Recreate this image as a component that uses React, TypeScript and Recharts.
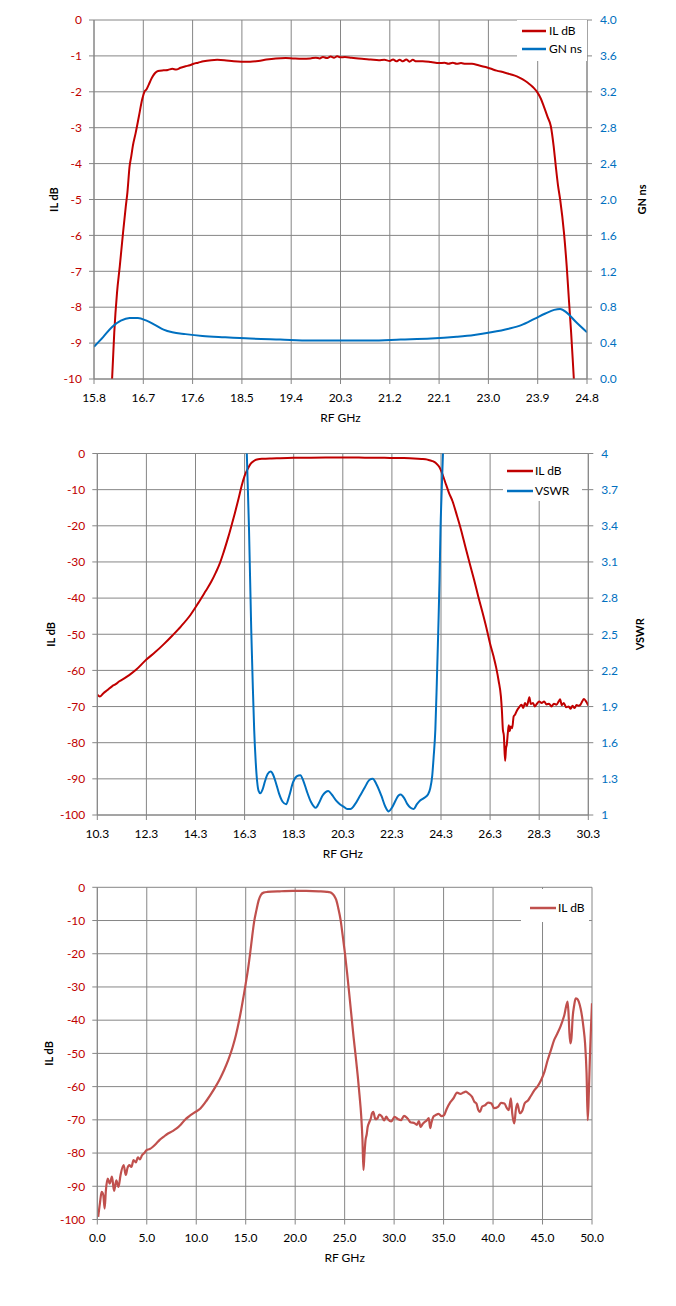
import React from 'react';
import { LineChart, Line, XAxis, YAxis, CartesianGrid, Legend } from 'recharts';

const FONT = 'Lato, "Liberation Sans", sans-serif';
const RED = '#C00000';
const BLUE = '#0070C0';
const RED3 = '#C0504D';
const GRID = '#868686';

// ---------- Chart 1: IL dB and GN ns, 15.8 - 24.8 GHz ----------
const c1XTicks = [15.8, 16.7, 17.6, 18.5, 19.4, 20.3, 21.2, 22.1, 23.0, 23.9, 24.8];
const c1LeftTicks = [0, -1, -2, -3, -4, -5, -6, -7, -8, -9, -10];
const c1RightTicks = [0, 0.4, 0.8, 1.2, 1.6, 2.0, 2.4, 2.8, 3.2, 3.6, 4.0];
const c1Series = ['IL dB', 'GN ns'];

const il1Freq = [16.08, 16.13, 16.17, 16.22, 16.27, 16.33, 16.38, 16.41, 16.45, 16.48, 16.51, 16.56, 16.62, 16.68, 16.72, 16.76, 16.8, 16.84, 16.88, 16.92, 16.97, 17.07, 17.15, 17.23, 17.3, 17.38, 17.47, 17.55, 17.62, 17.7, 17.8, 17.94, 18.05, 18.18, 18.35, 18.49, 18.65, 18.8, 18.95, 19.12, 19.3, 19.43, 19.6, 19.75, 19.85, 19.92, 19.98, 20.05, 20.12, 20.18, 20.24, 20.3, 20.38, 20.5, 20.69, 20.85, 21.0, 21.1, 21.2, 21.26, 21.32, 21.38, 21.44, 21.5, 21.56, 21.62, 21.68, 21.8, 21.95, 22.1, 22.2, 22.27, 22.35, 22.42, 22.5, 22.58, 22.7, 22.82, 22.95, 23.05, 23.15, 23.29, 23.4, 23.52, 23.62, 23.72, 23.82, 23.9, 23.96, 24.01, 24.08, 24.14, 24.19, 24.23, 24.27, 24.31, 24.38, 24.43, 24.47, 24.51, 24.56, 24.6];
const il1Val = [-11, -10, -8.7, -7.6, -6.87, -5.93, -5.2, -4.8, -4.07, -3.8, -3.5, -3.15, -2.68, -2.21, -2.0, -1.93, -1.8, -1.66, -1.55, -1.47, -1.42, -1.4, -1.39, -1.36, -1.38, -1.33, -1.29, -1.26, -1.22, -1.19, -1.15, -1.12, -1.11, -1.12, -1.15, -1.16, -1.16, -1.14, -1.1, -1.07, -1.06, -1.07, -1.08, -1.07, -1.05, -1.07, -1.03, -1.06, -1.02, -1.05, -1.01, -1.04, -1.03, -1.05, -1.08, -1.1, -1.12, -1.11, -1.14, -1.1, -1.15, -1.11, -1.15, -1.1, -1.16, -1.11, -1.15, -1.15, -1.17, -1.2, -1.19, -1.22, -1.19, -1.22, -1.2, -1.22, -1.22, -1.26, -1.31, -1.36, -1.41, -1.46, -1.51, -1.57, -1.65, -1.75, -1.88, -2.03, -2.2, -2.4, -2.7, -2.96, -3.5, -4.07, -4.6, -5.0, -5.93, -6.87, -7.8, -8.7, -10, -11];

const gn1Freq = [15.8, 15.97, 16.13, 16.29, 16.45, 16.6, 16.76, 16.92, 17.07, 17.23, 17.47, 17.78, 18.18, 18.65, 19.2, 19.75, 20.3, 20.85, 21.4, 21.95, 22.42, 22.74, 23.05, 23.37, 23.6, 23.84, 24.04, 24.2, 24.31, 24.43, 24.59, 24.8];
const gn1Val = [0.36, 0.47, 0.58, 0.65, 0.68, 0.68, 0.65, 0.6, 0.55, 0.52, 0.5, 0.48, 0.465, 0.45, 0.44, 0.43, 0.43, 0.43, 0.44, 0.45, 0.47, 0.49, 0.52, 0.56, 0.6, 0.67, 0.73, 0.77, 0.78, 0.74, 0.64, 0.52];

// ---------- Chart 2: IL dB and VSWR, 10.3 - 30.3 GHz ----------
const c2XTicks = [10.3, 12.3, 14.3, 16.3, 18.3, 20.3, 22.3, 24.3, 26.3, 28.3, 30.3];
const c2LeftTicks = [0, -10, -20, -30, -40, -50, -60, -70, -80, -90, -100];
const c2RightTicks = [1, 1.3, 1.6, 1.9, 2.2, 2.5, 2.8, 3.1, 3.4, 3.7, 4];
const c2Series = ['IL dB', 'VSWR'];

const il2Freq = [10.3, 10.4, 10.55, 10.7, 10.9, 11.05, 11.2, 11.4, 11.6, 11.9, 12.3, 12.65, 13.0, 13.35, 13.71, 14.1, 14.41, 14.7, 14.94, 15.13, 15.29, 15.45, 15.64, 15.8, 15.9, 16.05, 16.17, 16.3, 16.43, 16.55, 16.69, 16.85, 17.04, 17.4, 17.75, 18.3, 19.0, 19.8, 20.5, 21.2, 22.0, 22.7, 23.2, 23.5, 23.75, 23.95, 24.1, 24.22, 24.32, 24.4, 24.5, 24.62, 24.77, 24.95, 25.12, 25.3, 25.47, 25.65, 25.82, 26.0, 26.17, 26.3, 26.44, 26.55, 26.65, 26.74, 26.78, 26.82, 26.86, 26.91, 26.95, 26.98, 27.02, 27.06, 27.1, 27.14, 27.2, 27.26, 27.32, 27.4, 27.48, 27.58, 27.65, 27.72, 27.8, 27.9, 27.96, 28.05, 28.12, 28.2, 28.3, 28.4, 28.5, 28.6, 28.7, 28.8, 28.9, 29.0, 29.1, 29.15, 29.22, 29.3, 29.4, 29.5, 29.58, 29.66, 29.74, 29.82, 29.9, 29.98, 30.05, 30.12, 30.2, 30.3];
const il2Val = [-66.7, -67.2, -66.3, -65.5, -64.4, -63.8, -63.0, -62.2, -61.3, -59.7, -57.0, -55.0, -52.8, -50.4, -47.8, -44.6, -41.4, -38.2, -35.5, -32.9, -30.4, -27.2, -23.0, -19.1, -16.6, -12.6, -9.2, -6.2, -4.2, -2.8, -2.0, -1.6, -1.45, -1.35, -1.3, -1.2, -1.15, -1.1, -1.1, -1.15, -1.2, -1.25, -1.35, -1.5, -1.7, -2.1, -2.7, -3.6, -5.0, -6.5, -8.5, -10.8, -13.2, -17.2, -21.2, -26.0, -30.4, -35.0, -39.6, -44.2, -48.8, -52.6, -56.1, -59.3, -63.0, -67.2, -71.0, -76.4, -78.0, -85.0, -81.5, -80.5, -77.5, -75.2, -76.8, -75.5, -76.0, -72.7, -72.2, -71.0, -70.2, -69.5, -70.4, -69.0, -69.8, -67.4, -69.3, -69.0, -70.0, -69.3, -68.6, -69.0, -68.6, -69.4, -69.2, -70.0, -69.2, -69.5, -68.5, -68.0, -69.6, -69.0, -70.2, -70.0, -70.6, -69.8, -70.4, -69.6, -69.8, -69.5, -68.6, -67.9, -68.5, -69.7];

const vswrFreq = [16.3, 16.39, 16.48, 16.57, 16.63, 16.69, 16.75, 16.81, 16.87, 16.94, 17.03, 17.13, 17.24, 17.36, 17.47, 17.57, 17.7, 17.85, 17.99, 18.12, 18.27, 18.42, 18.57, 18.7, 18.83, 19.0, 19.2, 19.33, 19.47, 19.6, 19.71, 19.85, 20.03, 20.18, 20.33, 20.48, 20.61, 20.8, 21.0, 21.2, 21.38, 21.52, 21.66, 21.87, 22.03, 22.17, 22.3, 22.45, 22.56, 22.66, 22.8, 22.93, 23.06, 23.19, 23.32, 23.45, 23.6, 23.77, 23.86, 23.94, 24.0, 24.07, 24.13, 24.19, 24.24, 24.28, 24.33, 24.38, 24.46];
const vswrVal = [4.7, 4.0, 3.37, 2.54, 2.1, 1.71, 1.45, 1.28, 1.2, 1.18, 1.21, 1.28, 1.34, 1.36, 1.33, 1.27, 1.18, 1.11, 1.09, 1.16, 1.27, 1.32, 1.33, 1.28, 1.2, 1.11, 1.06, 1.1, 1.16, 1.19, 1.2, 1.17, 1.12, 1.09, 1.07, 1.05, 1.05, 1.09, 1.16, 1.23, 1.29, 1.3, 1.26, 1.16, 1.07, 1.03, 1.06, 1.12, 1.16, 1.17, 1.14, 1.09, 1.06, 1.05, 1.09, 1.12, 1.14, 1.17, 1.22, 1.32, 1.48, 1.71, 2.1, 2.54, 2.95, 3.37, 3.7, 4.0, 4.6];

// ---------- Chart 3: IL dB, 0 - 50 GHz ----------
const c3XTicks = [0, 5, 10, 15, 20, 25, 30, 35, 40, 45, 50];
const c3LeftTicks = [0, -10, -20, -30, -40, -50, -60, -70, -80, -90, -100];
const c3Series = ['IL dB'];

const il3Freq = [0.09, 0.26, 0.44, 0.61, 0.74, 0.87, 1.05, 1.26, 1.48, 1.7, 1.92, 2.14, 2.35, 2.66, 2.88, 3.05, 3.23, 3.45, 3.66, 3.9, 4.1, 4.3, 4.53, 4.75, 4.97, 5.3, 5.62, 6.0, 6.28, 6.7, 7.15, 7.6, 8.02, 8.45, 8.89, 9.3, 9.77, 10.42, 11.07, 11.5, 11.95, 12.4, 12.82, 13.25, 13.69, 14.0, 14.34, 14.55, 14.78, 15.0, 15.22, 15.45, 15.65, 15.85, 16.09, 16.3, 16.53, 16.8, 17.18, 18.5, 19.8, 21.1, 22.4, 23.2, 23.5, 23.72, 23.95, 24.15, 24.35, 24.59, 24.8, 25.03, 25.25, 25.46, 25.68, 25.9, 26.12, 26.33, 26.5, 26.68, 26.8, 26.9, 27.0, 27.11, 27.22, 27.33, 27.48, 27.64, 27.77, 27.9, 28.1, 28.3, 28.5, 28.74, 29.0, 29.2, 29.4, 29.7, 30.05, 30.4, 30.7, 31.0, 31.36, 31.7, 32.0, 32.3, 32.5, 32.67, 32.9, 33.1, 33.3, 33.5, 33.65, 33.76, 34.0, 34.18, 34.5, 34.8, 35.05, 35.3, 35.7, 36.0, 36.36, 36.7, 37.0, 37.23, 37.5, 37.88, 38.1, 38.32, 38.5, 38.67, 38.9, 39.19, 39.5, 39.84, 40.1, 40.5, 40.8, 41.15, 41.4, 41.59, 41.8, 41.94, 42.15, 42.3, 42.46, 42.7, 42.98, 43.2, 43.55, 43.8, 44.2, 44.5, 44.86, 45.2, 45.52, 45.85, 46.17, 46.5, 46.83, 47.2, 47.53, 47.62, 47.72, 47.82, 47.92, 48.05, 48.2, 48.35, 48.5, 48.66, 48.85, 49.0, 49.15, 49.3, 49.45, 49.57, 49.68, 49.79, 49.9, 50.0];
const il3Val = [-99.2, -95.2, -91.7, -92.7, -96.7, -91.2, -87.7, -89.2, -87.1, -91.4, -88.2, -90.2, -86.6, -83.6, -86.6, -84.5, -83.6, -84.2, -82.1, -82.8, -81.3, -81.9, -80.6, -80.0, -79.1, -78.8, -78.1, -77.0, -76.1, -75.1, -74.1, -73.4, -72.6, -71.4, -69.9, -68.9, -67.9, -66.6, -64.1, -62.2, -60.0, -57.6, -55.0, -51.9, -48.0, -44.6, -40.0, -36.8, -32.9, -29.0, -24.9, -19.8, -14.9, -10.4, -6.8, -4.0, -2.3, -1.6, -1.4, -1.2, -1.1, -1.1, -1.2, -1.35, -1.5, -1.8, -2.6, -3.8, -6.2, -9.8, -14.5, -19.9, -25.8, -31.9, -38.5, -45.0, -51.0, -57.0, -62.5, -69.1, -76.0, -85.1, -80.5, -76.1, -74.5, -72.1, -70.8, -69.6, -68.0, -67.6, -69.8, -69.6, -68.4, -68.9, -70.2, -69.0, -69.9, -70.5, -69.1, -69.8, -70.1, -68.8, -69.6, -70.8, -70.9, -71.5, -70.4, -72.1, -71.2, -70.6, -70.2, -69.5, -72.5, -71.0, -68.9, -68.6, -68.2, -68.9, -68.6, -66.8, -64.6, -63.5, -61.8, -62.2, -61.8, -61.5, -62.0, -63.1, -64.5, -65.1, -67.0, -67.6, -66.0, -65.6, -64.8, -65.1, -66.5, -66.1, -64.9, -65.1, -66.5, -67.1, -63.5, -68.1, -71.1, -67.0, -65.1, -68.0, -67.1, -65.0, -64.1, -62.9, -61.0, -59.9, -58.0, -55.5, -52.0, -49.0, -46.0, -44.0, -41.8, -38.5, -34.4, -37.5, -44.0, -47.0, -45.5, -39.0, -35.5, -33.4, -33.6, -34.4, -36.5, -39.0, -42.5, -47.0, -56.0, -70.1, -62.0, -51.0, -42.0, -34.9];

const toRows = (fs: number[], vs: number[]) => fs.map((f, i) => ({ f, v: vs[i] }));
const il1 = toRows(il1Freq, il1Val);
const gn1 = toRows(gn1Freq, gn1Val);
const il2 = toRows(il2Freq, il2Val);
const vswr2 = toRows(vswrFreq, vswrVal);
const il3 = toRows(il3Freq, il3Val);

const tickFont = { fontSize: 12, fontFamily: FONT };

const YTitle = (props: any) => {
  const vb = props.viewBox || {};
  const cy = props.cy != null ? props.cy : (vb.y || 0) + (vb.height || 0) / 2;
  const cx = props.cx;
  return (
    <text
      x={cx}
      y={cy}
      transform={`rotate(-90 ${cx} ${cy})`}
      textAnchor="middle"
      dominantBaseline="central"
      style={{ fontFamily: FONT, fontSize: 11, fontWeight: 700, fill: '#000' }}
    >
      {props.title}
    </text>
  );
};

const XTitle = (props: any) => {
  const vb = props.viewBox || {};
  const cx = (vb.x || 0) + (vb.width || 0) / 2;
  const cy = (vb.y || 0) + props.dyc;
  return (
    <text
      x={cx}
      y={cy}
      textAnchor="middle"
      dominantBaseline="central"
      style={{ fontFamily: FONT, fontSize: 12, fill: '#000' }}
    >
      {props.title}
    </text>
  );
};

const makeLegend = (
  order: string[],
  opts: { padTop: number; padLeft: number; rowH: number; lineLen: number; gap: number }
) =>
  (props: any) => {
    const payload = [...(props.payload || [])].sort(
      (a: any, b: any) => order.indexOf(a.value) - order.indexOf(b.value)
    );
    return (
      <div style={{ fontFamily: FONT, fontSize: 12, color: '#000', paddingTop: opts.padTop, paddingLeft: opts.padLeft }}>
        {payload.map((p: any) => (
          <div key={p.value} style={{ display: 'flex', alignItems: 'center', height: opts.rowH, whiteSpace: 'nowrap' }}>
            <svg width={opts.lineLen} height={4} style={{ display: 'block' }}>
              <line x1={0} y1={2} x2={opts.lineLen} y2={2} stroke={p.color} strokeWidth={2.5} />
            </svg>
            <span style={{ marginLeft: opts.gap, lineHeight: '12px' }}>{p.value}</span>
          </div>
        ))}
      </div>
    );
  };

const legend1 = makeLegend(c1Series, { padTop: 2, padLeft: 5, rowH: 18, lineLen: 24, gap: 3 });
const legend2 = makeLegend(c2Series, { padTop: 7, padLeft: 4, rowH: 20, lineLen: 26, gap: 2 });
const legend3 = makeLegend(c3Series, { padTop: 10, padLeft: 9, rowH: 18, lineLen: 26, gap: 2 });

const fmt1 = (v: number) => v.toFixed(1);
const fmtPlain = (v: number) => String(v);

export default function App() {
  return (
    <div style={{ position: 'relative', width: 660, height: 1292 }}>
      {/* Chart 1 */}
      <div style={{ position: 'absolute', left: 0, top: 0 }}>
        <LineChart width={660} height={420} margin={{ top: 12, right: 0, left: 0, bottom: 0 }}>
          <CartesianGrid stroke={GRID} yAxisId="l" fill="none" />
          <XAxis
            dataKey="f"
            type="number"
            domain={[15.8, 24.8]}
            ticks={c1XTicks}
            interval={0}
            allowDataOverflow
            height={49}
            tickFormatter={fmt1}
            tick={{ ...tickFont, fill: '#000' }}
            tickSize={5}
            tickMargin={9}
            stroke={GRID}
            label={<XTitle title="RF GHz" dyc={38} />}
          />
          <YAxis
            yAxisId="l"
            orientation="left"
            width={86}
            domain={[-10, 0]}
            ticks={c1LeftTicks}
            interval={0}
            allowDataOverflow
            tickFormatter={fmtPlain}
            tick={{ ...tickFont, fill: RED }}
            tickSize={5}
            tickMargin={7}
            stroke={GRID}
            label={<YTitle title="IL dB" cx={45} cy={191.5} />}
          />
          <YAxis
            yAxisId="r"
            orientation="right"
            width={81}
            domain={[0, 4]}
            ticks={c1RightTicks}
            interval={0}
            allowDataOverflow
            tickFormatter={fmt1}
            tick={{ ...tickFont, fill: BLUE }}
            tickSize={5}
            tickMargin={8}
            stroke={GRID}
            label={<YTitle title="GN ns" cx={633} cy={191.5} />}
          />
          <Line data={il1} dataKey="v" name="IL dB" yAxisId="l" stroke={RED} strokeWidth={2} dot={false} type="monotone" isAnimationActive={false} />
          <Line data={gn1} dataKey="v" name="GN ns" yAxisId="r" stroke={BLUE} strokeWidth={2} dot={false} type="monotone" isAnimationActive={false} />
          <Legend
            layout="vertical"
            align="center"
            verticalAlign="middle"
            content={legend1}
            wrapperStyle={{ left: 509, top: 12, width: 70, height: 41, background: '#fff', boxSizing: 'border-box' }}
          />
        </LineChart>
      </div>

      {/* Chart 2 */}
      <div style={{ position: 'absolute', left: 0, top: 432 }}>
        <LineChart width={660} height={420} margin={{ top: 13.5, right: 0, left: 0, bottom: 0 }}>
          <CartesianGrid stroke={GRID} yAxisId="l" fill="none" />
          <XAxis
            dataKey="f"
            type="number"
            domain={[10.3, 30.3]}
            ticks={c2XTicks}
            interval={0}
            allowDataOverflow
            height={45}
            tickFormatter={fmt1}
            tick={{ ...tickFont, fill: '#000' }}
            tickSize={5}
            tickMargin={9}
            stroke={GRID}
            label={<XTitle title="RF GHz" dyc={38} />}
          />
          <YAxis
            yAxisId="l"
            orientation="left"
            width={89.3}
            domain={[-100, 0]}
            ticks={c2LeftTicks}
            interval={0}
            allowDataOverflow
            tickFormatter={fmtPlain}
            tick={{ ...tickFont, fill: RED }}
            tickSize={5}
            tickMargin={7}
            stroke={GRID}
            label={<YTitle title="IL dB" cx={42.6} cy={194.3} />}
          />
          <YAxis
            yAxisId="r"
            orientation="right"
            width={79.7}
            domain={[1, 4]}
            ticks={c2RightTicks}
            interval={0}
            allowDataOverflow
            tickFormatter={fmtPlain}
            tick={{ ...tickFont, fill: BLUE }}
            tickSize={5}
            tickMargin={8}
            stroke={GRID}
            label={<YTitle title="VSWR" cx={632} cy={194.3} />}
          />
          <Line data={il2} dataKey="v" name="IL dB" yAxisId="l" stroke={RED} strokeWidth={2} dot={false} type="monotone" isAnimationActive={false} />
          <Line data={vswr2} dataKey="v" name="VSWR" yAxisId="r" stroke={BLUE} strokeWidth={2} dot={false} type="monotone" isAnimationActive={false} />
          <Legend
            layout="vertical"
            align="center"
            verticalAlign="middle"
            content={legend2}
            wrapperStyle={{ left: 495, top: 14, width: 79, height: 47, background: '#fff', boxSizing: 'border-box' }}
          />
        </LineChart>
      </div>

      {/* Chart 3 */}
      <div style={{ position: 'absolute', left: 0, top: 862 }}>
        <LineChart width={660} height={420} margin={{ top: 17.3, right: 76, left: 0, bottom: 0 }}>
          <CartesianGrid stroke={GRID} yAxisId="l" fill="none" />
          <XAxis
            dataKey="f"
            type="number"
            domain={[0, 50]}
            ticks={c3XTicks}
            interval={0}
            allowDataOverflow
            height={70.5}
            tickFormatter={fmt1}
            tick={{ ...tickFont, fill: '#000' }}
            tickSize={5}
            tickMargin={9}
            stroke={GRID}
            label={<XTitle title="RF GHz" dyc={37.5} />}
          />
          <YAxis
            yAxisId="l"
            orientation="left"
            width={89.3}
            domain={[-100, 0]}
            ticks={c3LeftTicks}
            interval={0}
            allowDataOverflow
            tickFormatter={fmtPlain}
            tick={{ ...tickFont, fill: RED }}
            tickSize={5}
            tickMargin={7}
            stroke={GRID}
            label={<YTitle title="IL dB" cx={41} cy={183.4} />}
          />
          <Line data={il3} dataKey="v" name="IL dB" yAxisId="l" stroke={RED3} strokeWidth={2.2} dot={false} type="monotone" isAnimationActive={false} />
          <Legend
            layout="vertical"
            align="center"
            verticalAlign="middle"
            content={legend3}
            wrapperStyle={{ left: 513, top: 19, width: 68, height: 33, background: '#fff', boxSizing: 'border-box' }}
          />
        </LineChart>
      </div>
    </div>
  );
}
